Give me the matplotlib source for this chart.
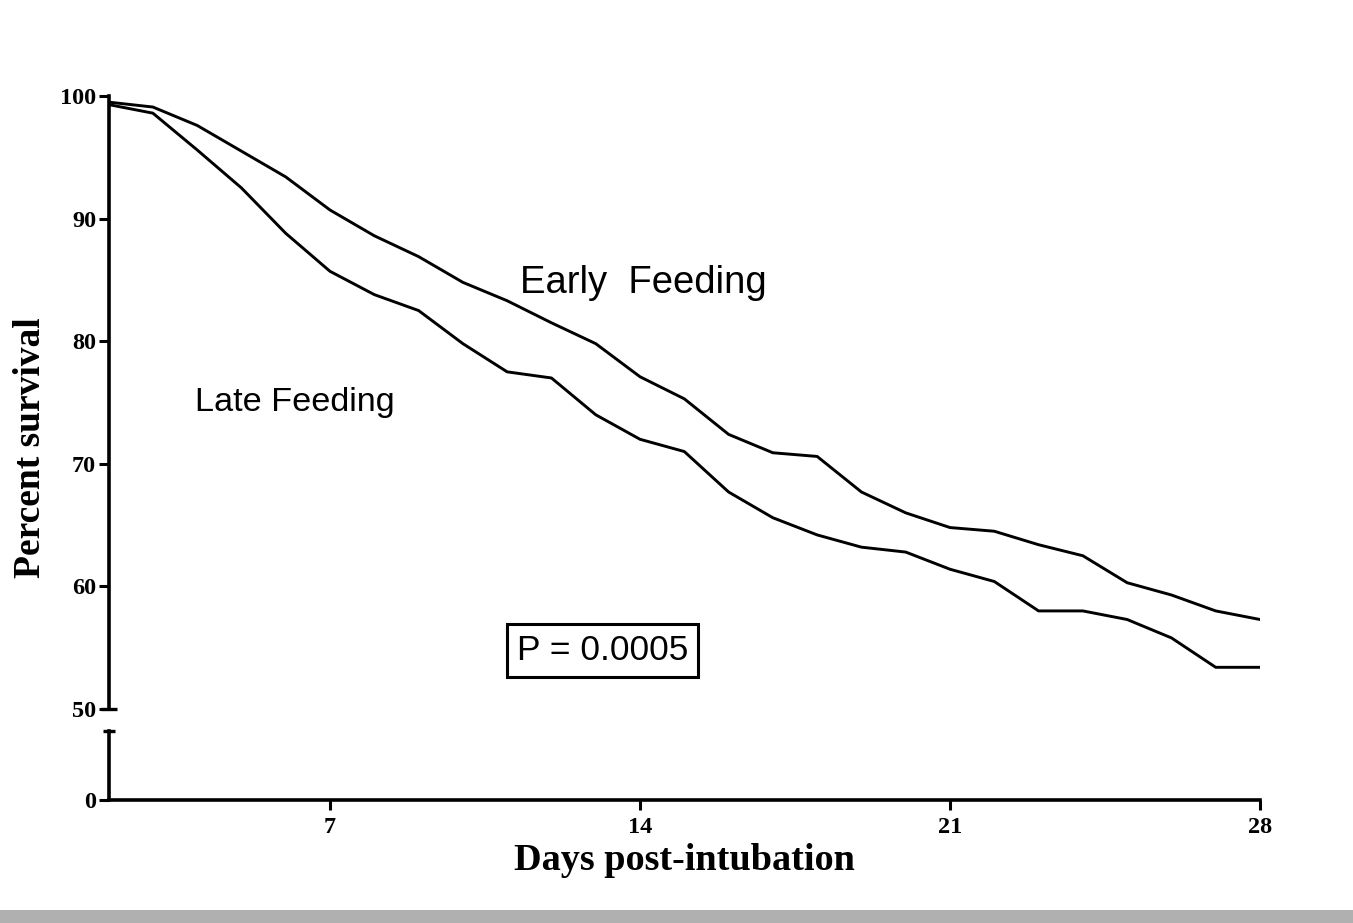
import matplotlib
matplotlib.use("Agg")
import matplotlib.pyplot as plt
from matplotlib.patches import Rectangle

# Kaplan-Meier style survival estimates, one value per day (days 2..28)
days = list(range(2, 29))
early_feeding = [99.5, 99.1, 97.6, 95.5, 93.4, 90.7, 88.6, 86.9, 84.8, 83.3,
                 81.5, 79.8, 77.1, 75.3, 72.4, 70.9, 70.6, 67.7, 66.0, 64.8,
                 64.5, 63.4, 62.5, 60.3, 59.3, 58.0, 57.3]
late_feeding = [99.3, 98.6, 95.6, 92.5, 88.8, 85.7, 83.8, 82.5, 79.8, 77.5,
                77.0, 74.0, 72.0, 71.0, 67.7, 65.6, 64.2, 63.2, 62.8, 61.4,
                60.4, 58.0, 58.0, 57.3, 55.8, 53.4, 53.4]

x_ticks = [7, 14, 21, 28]
y_ticks_upper = [50, 60, 70, 80, 90, 100]
y_ticks_lower = [0]
p_value_text = "P = 0.0005"

W, H = 1353, 923
fig = plt.figure(figsize=(W / 100, H / 100), dpi=100)
fig.patch.set_facecolor("white")

serif = ["Liberation Serif", "DejaVu Serif"]
sans = ["Liberation Sans", "DejaVu Sans"]

left = 108.6 / W
width = (1260 - 108.6) / W
ax = fig.add_axes([left, (H - 709) / H, width, (709 - 96) / H])
ax_lo = fig.add_axes([left, (H - 800) / H, width, (800 - 731) / H], sharex=ax)

lw_axis = 2.6
for a in (ax, ax_lo):
    a.set_facecolor("none")
    for s in ("top", "right"):
        a.spines[s].set_visible(False)
    a.spines["left"].set_linewidth(lw_axis)
    a.spines["bottom"].set_linewidth(lw_axis)
    a.tick_params(axis="both", direction="out", length=7, width=2.2,
                  colors="black", pad=2)
ax_lo.tick_params(axis="x", pad=5)

ax.spines["bottom"].set_visible(False)
ax.tick_params(axis="x", which="both", bottom=False, labelbottom=False)

# survival curves
ax.plot(days, early_feeding, color="black", lw=2.1, solid_joinstyle="round")
ax.plot(days, late_feeding, color="black", lw=2.1, solid_joinstyle="round")

ax.set_xlim(2, 28)
ax.set_ylim(50, 100)
ax.set_yticks(y_ticks_upper)
ax.set_yticklabels([str(v) for v in y_ticks_upper])

ax_lo.set_ylim(0, 5.6)
ax_lo.set_yticks(y_ticks_lower)
ax_lo.set_yticklabels([str(v) for v in y_ticks_lower])
ax_lo.set_xticks(x_ticks)
ax_lo.set_xticklabels([str(v) for v in x_ticks])

for a in (ax, ax_lo):
    for lab in a.get_xticklabels() + a.get_yticklabels():
        lab.set_fontfamily(serif)
        lab.set_fontweight("bold")
        lab.set_fontsize(17.5)

# caps at both ends of the axis break
ax.plot([0], [0], transform=ax.transAxes, marker="_", markersize=12,
        markeredgewidth=2.4, color="black", clip_on=False)
ax_lo.plot([0], [1], transform=ax_lo.transAxes, marker="_", markersize=8,
           markeredgewidth=2.4, color="black", clip_on=False)

ax_lo.set_xlabel("Days post-intubation", fontfamily=serif, fontweight="bold",
                 fontsize=27.5, labelpad=4)
fig.text(30 / W, (H - 448) / H, "Percent survival", rotation=90,
         ha="center", va="center", fontfamily=serif, fontweight="bold",
         fontsize=27)

# annotations
ax.text(11.29, 83.9, "Early  Feeding", fontfamily=sans, fontsize=27.5,
        ha="left", va="baseline")
ax.text(3.95, 74.3, "Late Feeding", fontfamily=sans, fontsize=24.7,
        ha="left", va="baseline")
ax.text(11.22, 54.0, p_value_text, fontfamily=sans, fontsize=25.5,
        ha="left", va="baseline",
        bbox=dict(boxstyle="square,pad=0.28", facecolor="white",
                  edgecolor="black", linewidth=2.2))

# grey strip along the bottom edge
fig.patches.append(Rectangle((0, 0), 1, 13 / H, transform=fig.transFigure,
                             facecolor="#b0b0b0", edgecolor="none"))

fig.savefig("out.png", dpi=100)
